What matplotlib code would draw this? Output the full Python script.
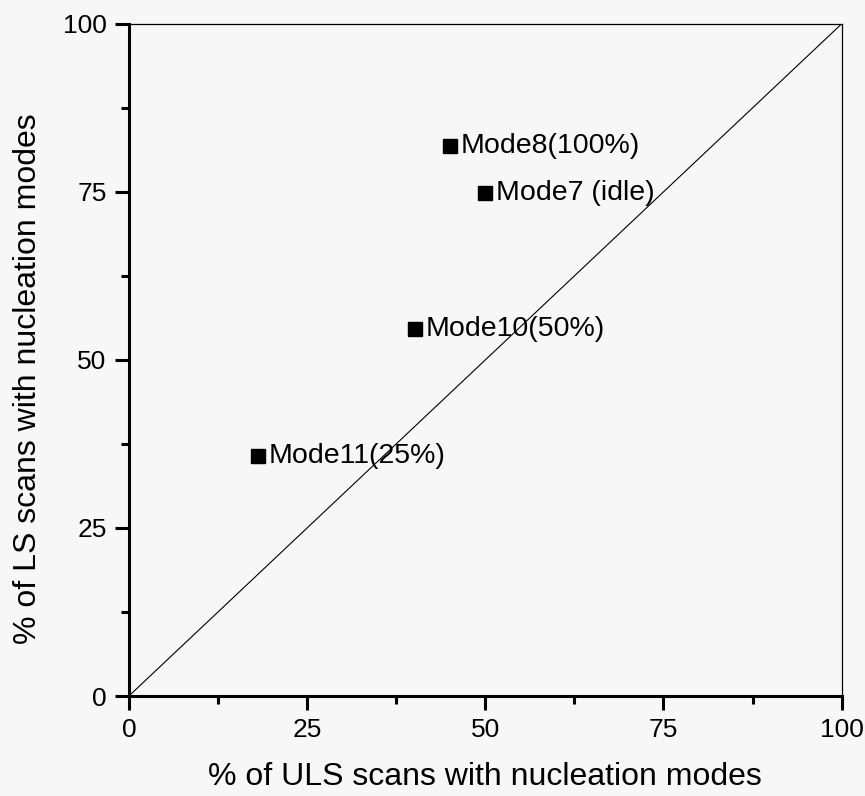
import matplotlib.pyplot as plt
from matplotlib.ticker import MultipleLocator

plt.rcParams['font.family'] = ['Liberation Sans', 'DejaVu Sans']

# 各モードの割合 (%)
modes = ["Mode8(100%)", "Mode7 (idle)", "Mode10(50%)", "Mode11(25%)"]
uls_pct = [45.1, 50.0, 40.2, 18.1]
ls_pct = [81.9, 74.9, 54.6, 35.7]

fig = plt.figure(figsize=(8.65, 7.96), dpi=100, facecolor="#f7f7f7")
ax = fig.add_axes([0.149, 0.1256, 0.824, 0.8444])
ax.set_facecolor("#f7f7f7")

# 対角線 (y = x)
ax.plot([0, 100], [0, 100], color="black", lw=0.8)

ax.plot(uls_pct, ls_pct, "s", color="black", ms=10, clip_on=False)
for name, x, y in zip(modes, uls_pct, ls_pct):
    ax.annotate(name, (x, y), xytext=(7.5, 0), textcoords="offset points",
                va="center", ha="left", fontsize=20.5)

ax.set_xlim(0, 100)
ax.set_ylim(0, 100)
ax.xaxis.set_major_locator(MultipleLocator(25))
ax.yaxis.set_major_locator(MultipleLocator(25))
ax.xaxis.set_minor_locator(MultipleLocator(12.5))
ax.yaxis.set_minor_locator(MultipleLocator(12.5))

ax.spines["left"].set_linewidth(2.2)
ax.spines["bottom"].set_linewidth(2.2)
ax.spines["top"].set_linewidth(0.9)
ax.spines["right"].set_linewidth(0.9)

ax.tick_params(which="major", direction="out", length=10, width=2.2,
               labelsize=19, pad=6)
ax.tick_params(which="minor", direction="out", length=6, width=2.2)

ax.set_xlabel("% of ULS scans with nucleation modes", fontsize=23, labelpad=14)
ax.set_ylabel("% of LS scans with nucleation modes", fontsize=23)
ax.yaxis.set_label_coords(-0.12, 0.4725)

fig.savefig("out.png", dpi=100, facecolor=fig.get_facecolor())
